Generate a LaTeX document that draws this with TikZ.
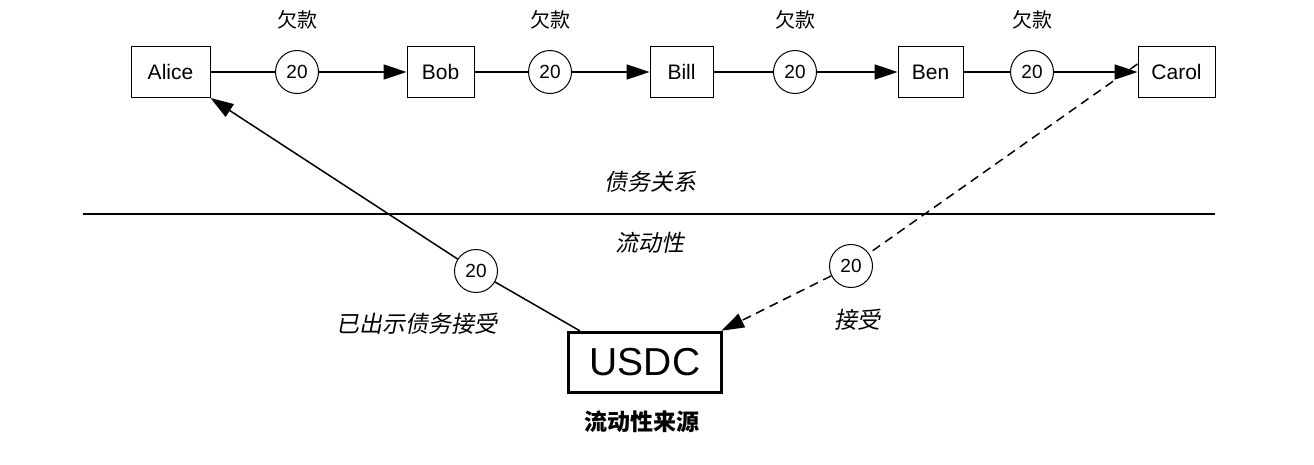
\documentclass[tikz,border=0pt]{standalone}
\usepackage{fontspec}
\setmainfont{Liberation Sans}
\newfontfamily\cjk{Noto Sans CJK SC}
\newfontfamily\cjkit{Noto Sans CJK SC}[FakeSlant=0.2]
\usetikzlibrary{arrows.meta}
\tikzset{
  person/.style={draw, line width=1pt, minimum height=51pt, inner sep=0pt, font=\fontsize{21}{25}\selectfont},
  amount/.style={draw, circle, line width=1pt, minimum size=43pt, inner sep=0pt, font=\fontsize{19}{22}\selectfont},
  debt/.style={font=\cjk\fontsize{20}{24}\selectfont},
  itlabel/.style={font=\cjkit\fontsize{23}{27}\selectfont},
  link/.style={line width=1.5pt},
  arr/.style={line width=1.5pt, -{Triangle[length=23pt,width=15pt]}},
}
\begin{document}
\begin{tikzpicture}[x=1pt,y=-1pt]
\useasboundingbox (0,0) rectangle (1314,464);
% persons
\node[person, minimum width=79pt] (alice) at (170.5,72) {Alice};
\node[person, minimum width=67pt] (bob) at (440.5,72) {Bob};
\node[person, minimum width=63pt] (bill) at (681.5,72) {Bill};
\node[person, minimum width=65pt] (ben) at (930.5,72) {Ben};
\node[person, minimum width=77pt] (carol) at (1176.5,72) {Carol};
% amounts
\node[amount] (c1) at (297,72) {20};
\node[amount] (c2) at (550,72) {20};
\node[amount] (c3) at (795,72) {20};
\node[amount] (c4) at (1032,72) {20};
\node[debt] (d1) at (297,20) {欠款};
\node[debt] (d2) at (550,20) {欠款};
\node[debt] (d3) at (795,20) {欠款};
\node[debt] (d4) at (1032,20) {欠款};
\draw[link] (alice) -- (c1);
\draw[arr] (c1) -- (bob);
\draw[link] (bob) -- (c2);
\draw[arr] (c2) -- (bill);
\draw[link] (bill) -- (c3);
\draw[arr] (c3) -- (ben);
\draw[link] (ben) -- (c4);
\draw[arr] (c4) -- (carol);
% separator
\coordinate (sepL) at (83,214);
\coordinate (sepR) at (1215,214);
\draw[line width=1.5pt] (sepL) -- (sepR);
\node[itlabel] (debtrel) at (650,182) {债务关系};
\node[itlabel] (liq) at (650,243) {流动性};
% USDC
\node[draw, line width=3.5pt, minimum width=153pt, minimum height=60pt, inner sep=0pt, font=\fontsize{39}{44}\selectfont] (usdc) at (645,362.5) {USDC};
\node[font=\cjk\bfseries\fontsize{23}{27}\selectfont] (src) at (642,422) {流动性来源};
% left link
\node[amount] (c5) at (476,271) {20};
\coordinate (us) at ([xshift=13pt]usdc.north west);
\coordinate (ae) at (alice.south east);
\draw[link] (us) -- (c5);
\draw[arr] (c5) -- (ae);
\node[itlabel] (shown) at (417,324) {已出示债务接受};
% right dashed link
\node[amount] (c6) at (851,266) {20};
\coordinate (cs) at ([yshift=8pt]carol.west);
\coordinate (un) at ([xshift=-2pt]usdc.north east);
\draw[link, dash pattern=on 9pt off 6pt] (cs) -- (c6);
\draw[arr, dash pattern=on 9pt off 6pt] (c6) -- (un);
\node[itlabel] (acc) at (857,320) {接受};
\end{tikzpicture}
\end{document}
